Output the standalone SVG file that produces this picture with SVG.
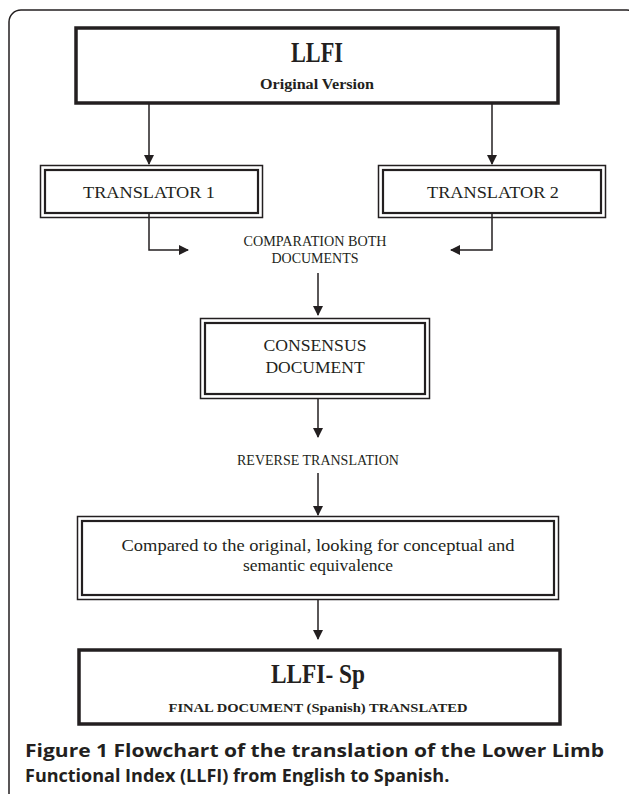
<svg xmlns="http://www.w3.org/2000/svg" width="629" height="794" viewBox="0 0 629 794">
<defs>
<marker id="ah" markerWidth="10" markerHeight="10" refX="9" refY="5" orient="auto" markerUnits="userSpaceOnUse" viewBox="0 0 10 10">
<path d="M0,0 L10,5 L0,10 Z" fill="#231f20"/>
</marker>
<style>
.frame{fill:none;stroke:#231f20;stroke-width:1.5}
.thick{fill:#fff;stroke:#231f20;stroke-width:3.5}
.dout{fill:#fff;stroke:#231f20;stroke-width:1.5}
.din{fill:none;stroke:#231f20;stroke-width:2.2}
.conn{fill:none;stroke:#231f20;stroke-width:1.5;marker-end:url(#ah)}
.serif{font-family:"Liberation Serif","DejaVu Serif",serif;fill:#231f20}
.b{font-weight:bold}
.cap{font-family:"Open Sans","Liberation Sans",sans-serif;font-weight:bold;fill:#231f20;font-size:18px}
</style>
</defs>
<rect width="629" height="794" fill="#fff"/>
<rect class="frame" x="9" y="10" width="630" height="800" rx="12"/>

<g id="llfi">
<rect class="thick" x="76" y="28" width="482" height="75"/>
<text class="serif b" x="317" y="62" font-size="30" text-anchor="middle" textLength="52" lengthAdjust="spacingAndGlyphs">LLFI</text>
<text class="serif b" x="317" y="89" font-size="14" text-anchor="middle" textLength="114" lengthAdjust="spacingAndGlyphs">Original Version</text>
</g>

<g id="translator1">
<rect class="dout" x="40.5" y="165.5" width="222" height="52"/>
<rect class="din" x="45" y="170" width="213" height="43"/>
<text class="serif" x="149" y="198" font-size="17" text-anchor="middle" textLength="132" lengthAdjust="spacingAndGlyphs">TRANSLATOR 1</text>
</g>

<g id="translator2">
<rect class="dout" x="378.5" y="165.5" width="227" height="52"/>
<rect class="din" x="383" y="170" width="218" height="43"/>
<text class="serif" x="493" y="198" font-size="17" text-anchor="middle" textLength="132" lengthAdjust="spacingAndGlyphs">TRANSLATOR 2</text>
</g>

<g id="comparation">
<text class="serif" x="315" y="246" font-size="14" text-anchor="middle" textLength="143" lengthAdjust="spacingAndGlyphs">COMPARATION BOTH</text>
<text class="serif" x="315" y="263" font-size="14" text-anchor="middle">DOCUMENTS</text>
</g>

<g id="consensus">
<rect class="dout" x="200.5" y="318.5" width="229" height="80"/>
<rect class="din" x="205" y="323" width="220" height="71"/>
<text class="serif" x="315" y="351" font-size="17.5" text-anchor="middle" textLength="103" lengthAdjust="spacingAndGlyphs">CONSENSUS</text>
<text class="serif" x="315" y="373" font-size="17.5" text-anchor="middle">DOCUMENT</text>
</g>

<g id="reverse">
<text class="serif" x="318" y="465" font-size="14" text-anchor="middle">REVERSE TRANSLATION</text>
</g>

<g id="compared">
<rect class="dout" x="77.5" y="516.5" width="481" height="83"/>
<rect class="din" x="82" y="521" width="472" height="74"/>
<text class="serif" x="318" y="551" font-size="17.5" text-anchor="middle" textLength="393" lengthAdjust="spacingAndGlyphs">Compared to the original, looking for conceptual and</text>
<text class="serif" x="318" y="571" font-size="17.5" text-anchor="middle">semantic equivalence</text>
</g>

<g id="final">
<rect class="thick" x="79" y="650" width="481" height="74"/>
<text class="serif b" x="318" y="683" font-size="28" text-anchor="middle" textLength="94" lengthAdjust="spacingAndGlyphs">LLFI- Sp</text>
<text class="serif b" x="318" y="712" font-size="13" text-anchor="middle" textLength="299" lengthAdjust="spacingAndGlyphs">FINAL DOCUMENT (Spanish) TRANSLATED</text>
</g>

<g id="connectors">
<path class="conn" d="M149,103 V164"/>
<path class="conn" d="M492,103 V164"/>
<path class="conn" d="M149,214 V250 H188"/>
<path class="conn" d="M492,214 V250 H451"/>
<path class="conn" d="M318,273 V315"/>
<path class="conn" d="M318,398 V437"/>
<path class="conn" d="M318,473 V515"/>
<path class="conn" d="M318,600 V639"/>
</g>

<g id="caption">
<text class="cap" x="25" y="757" textLength="579" lengthAdjust="spacingAndGlyphs">Figure 1 <tspan>Flowchart of the translation of the Lower Limb</tspan></text>
<text class="cap" x="25" y="782">Functional Index (LLFI) from English to Spanish.</text>
</g>
</svg>
